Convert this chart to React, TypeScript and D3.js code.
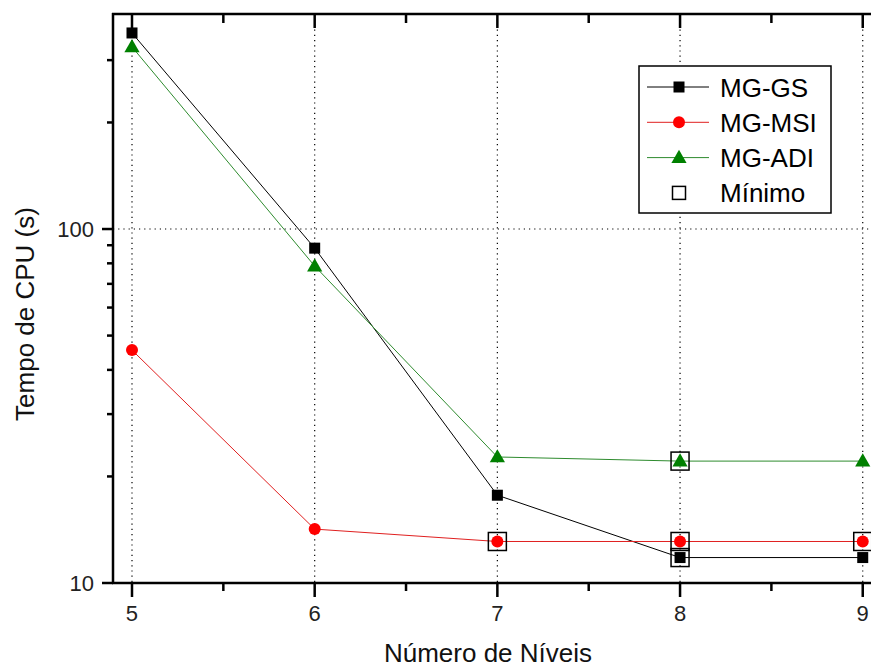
import React from "react";
import * as d3 from "d3";

const levels = [5, 6, 7, 8, 9];
const mgGS = [358, 88.3, 17.7, 11.8, 11.8];
const mgMSI = [45.5, 14.2, 13.1, 13.1, 13.1];
const mgADI = [327, 78.6, 22.7, 22.1, 22.1];
const minimoX = [7, 8, 8, 8, 9];
const minimoY = [13.1, 22.1, 13.1, 11.8, 13.1];
const yTickLabels = [10, 100];
const yMinorTicks = [20, 30, 40, 50, 60, 70, 80, 90, 200, 300];
const xMinorTicks = [5.5, 6.5, 7.5, 8.5];

const W = 871;
const H = 668;
const FONT = "'Liberation Sans', Arial, sans-serif";

export default function App() {
  const x = d3.scaleLinear().domain([4.896, 9.1]).range([113, 881]);
  const y = d3.scaleLog().domain([10, 405]).range([583, 14]);
  const line = d3
    .line<number>()
    .x((_, i) => x(levels[i]))
    .y((d) => y(d));

  const series = [
    { name: "MG-GS", data: mgGS, color: "#000000", line: "#000000", shape: "square" },
    { name: "MG-MSI", data: mgMSI, color: "#ff0000", line: "#e02020", shape: "circle" },
    { name: "MG-ADI", data: mgADI, color: "#008000", line: "#2e8b2e", shape: "triangle" },
  ];

  const marker = (shape: string, cx: number, cy: number, color: string, key: string) => {
    if (shape === "square")
      return <rect key={key} x={cx - 5.5} y={cy - 5.5} width={11} height={11} fill={color} />;
    if (shape === "circle") return <circle key={key} cx={cx} cy={cy} r={6} fill={color} />;
    const p = d3.symbol().type(d3.symbolTriangle).size(100)();
    return <path key={key} d={p || ""} transform={`translate(${cx},${cy + 1})`} fill={color} />;
  };

  const plotLeft = 113;
  const plotRight = 871;
  const plotTop = 14;
  const plotBottom = 583;

  const legendX = 639;
  const legendY = 66;
  const legendRows = [...series.map((s) => s.name), "Mínimo"];

  return (
    <svg
      width={W}
      height={H}
      style={{ position: "absolute", left: 0, top: 0, background: "#fff" }}
      fontFamily={FONT}
    >
      <rect x={0} y={0} width={W} height={H} fill="#fff" />
      {/* grid */}
      {levels.map((l) => (
        <line
          key={"gx" + l}
          x1={x(l)}
          x2={x(l)}
          y1={plotTop}
          y2={plotBottom}
          stroke="#000"
          strokeWidth={1.2}
          strokeDasharray="1.2,4"
        />
      ))}
      <line
        x1={plotLeft}
        x2={plotRight}
        y1={y(100)}
        y2={y(100)}
        stroke="#000"
        strokeWidth={1.2}
        strokeDasharray="1.2,4"
      />
      {/* series lines */}
      {series.map((s) => (
        <path key={"l" + s.name} d={line(s.data) || ""} fill="none" stroke={s.line} strokeWidth={1} />
      ))}
      {/* markers */}
      {series.map((s) =>
        s.data.map((v, i) => marker(s.shape, x(levels[i]), y(v), s.color, s.name + i))
      )}
      {/* minimo */}
      {minimoX.map((lx, i) => (
        <rect
          key={"min" + i}
          x={x(lx) - 9}
          y={y(minimoY[i]) - 9}
          width={18}
          height={18}
          fill="none"
          stroke="#000"
          strokeWidth={1.5}
        />
      ))}
      {/* axes */}
      <line x1={plotLeft} x2={plotLeft} y1={plotTop - 1} y2={plotBottom + 1} stroke="#000" strokeWidth={2.5} />
      <line x1={plotLeft - 1} x2={W} y1={plotBottom} y2={plotBottom} stroke="#000" strokeWidth={2.5} />
      <line x1={plotLeft - 1} x2={W} y1={plotTop} y2={plotTop} stroke="#000" strokeWidth={2.5} />
      {/* x ticks */}
      {levels.map((l) => (
        <g key={"xt" + l}>
          <line x1={x(l)} x2={x(l)} y1={plotBottom} y2={plotBottom + 14} stroke="#000" strokeWidth={2.5} />
          <line x1={x(l)} x2={x(l)} y1={plotTop} y2={plotTop + 14} stroke="#000" strokeWidth={2.5} />
          <text x={x(l)} y={621} textAnchor="middle" fontSize={22} fill="#222">
            {l}
          </text>
        </g>
      ))}
      {xMinorTicks.map((l) => (
        <g key={"xm" + l}>
          <line x1={x(l)} x2={x(l)} y1={plotBottom} y2={plotBottom + 8} stroke="#000" strokeWidth={2.5} />
          <line x1={x(l)} x2={x(l)} y1={plotTop} y2={plotTop + 9} stroke="#000" strokeWidth={2.5} />
        </g>
      ))}
      {/* y ticks */}
      {yTickLabels.map((v) => (
        <g key={"yt" + v}>
          <line x1={plotLeft - 11} x2={plotLeft} y1={y(v)} y2={y(v)} stroke="#000" strokeWidth={2.5} />
          <text x={94} y={y(v) + 8} textAnchor="end" fontSize={22} fill="#222">
            {v}
          </text>
        </g>
      ))}
      {yMinorTicks.map((v) => (
        <line key={"ym" + v} x1={plotLeft - 6} x2={plotLeft} y1={y(v)} y2={y(v)} stroke="#000" strokeWidth={2.5} />
      ))}
      {/* axis titles */}
      <text x={488} y={662} textAnchor="middle" fontSize={26} fill="#111">
        Número de Níveis
      </text>
      <text
        transform={`translate(34,314) rotate(-90)`}
        textAnchor="middle"
        fontSize={26}
        fill="#111"
      >
        Tempo de CPU (s)
      </text>
      {/* legend */}
      <rect x={legendX} y={legendY} width={192} height={147} fill="#fff" stroke="#000" strokeWidth={1.5} />
      {legendRows.map((name, i) => {
        const cy = 87 + i * 35.3;
        const s = series[i];
        return (
          <g key={"lg" + name}>
            {s ? (
              <>
                <line x1={647} x2={709} y1={cy} y2={cy} stroke={s.line} strokeWidth={1} />
                {marker(s.shape, 679, cy, s.color, "lm" + i)}
              </>
            ) : (
              <rect x={672.5} y={cy - 6.5} width={13} height={13} fill="none" stroke="#000" strokeWidth={1.5} />
            )}
            <text x={720} y={cy + 9.5} fontSize={26} fill="#000">
              {name}
            </text>
          </g>
        );
      })}
    </svg>
  );
}
